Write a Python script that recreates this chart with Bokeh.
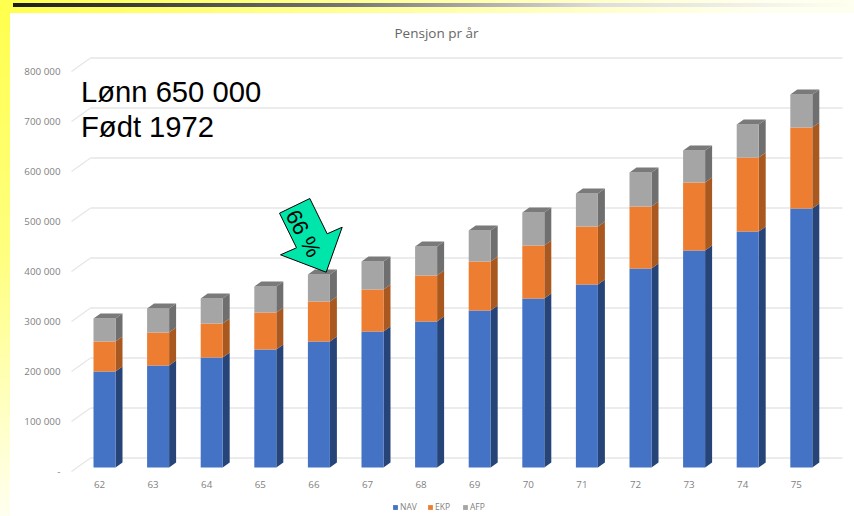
from bokeh.plotting import figure
from bokeh.embed import file_html
from bokeh.resources import INLINE
from bokeh.models import Range1d, FixedTicker, Legend, LegendItem
from bokeh.core.properties import value
import math

# ---- data ----
ages = [62, 63, 64, 65, 66, 67, 68, 69, 70, 71, 72, 73, 74, 75]
nav = [192000, 204000, 220000, 236000, 252000, 272000, 292000, 314000, 338000, 366000, 398000, 434000, 472000, 518000]
ekp = [60000, 66000, 68000, 74000, 80000, 84000, 92000, 98000, 106000, 116000, 124000, 136000, 148000, 162000]
afp = [46000, 48000, 50000, 52000, 54000, 56000, 58000, 62000, 66000, 66000, 68000, 64000, 66000, 66000]
y_ticks = [0, 100000, 200000, 300000, 400000, 500000, 600000, 700000, 800000]
y_labels = ["-", "100 000", "200 000", "300 000", "400 000", "500 000", "600 000", "700 000", "800 000"]
title = "Pensjon pr år"
note_lines = ["Lønn 650 000", "Født 1972"]
arrow_label = "66 %"
arrow_shape_px = [(279, 212.7), (309.3, 198), (326.7, 233.3), (341.7, 226.7), (325.7, 271.7), (280, 254.3), (296, 247.3)]

# ---- scale set-up (pixels of the 854x516 page) ----
W, H = 854, 516
PX_PER_AGE = 53.6
PX_PER_UNIT = 0.0005
FRAME_L = 66
X0_PX, Y0_PX = 99, 471  # age-62 tick label, axis zero


def dx(px):
    return px / PX_PER_AGE


def dy(px):
    return px / PX_PER_UNIT


def x_at(px):
    return 62 + (px - X0_PX) / PX_PER_AGE


def y_at(px):
    return (Y0_PX - px) / PX_PER_UNIT


BAR_SHIFT = dx(5)      # columns sit 5 px right of their tick labels
BAR_BASE = dy(4)       # bars stand 4 px above the axis zero
GRID_UP = dy(13.5)     # back wall is 13.5 px above the axis zero
HALF = dx(11)
DEPTH_X, DEPTH_Y = dx(7), dy(5)

p = figure(
    width=W, height=H, output_backend="svg", toolbar_location=None,
    x_range=Range1d(x_at(FRAME_L), x_at(W)), y_range=Range1d(y_at(H), y_at(0)),
    min_border_left=FRAME_L, min_border_right=0, min_border_top=0, min_border_bottom=0,
    outline_line_color=None, background_fill_color=None, border_fill_color=None,
    styles={
        "position": "absolute", "left": "0", "top": "0",
        "background": (
            "linear-gradient(90deg,#1c1c1c,#777 40%,#ddd 70%,#fffff0) 13px 3px/841px 4px no-repeat,"
            "linear-gradient(#fff,#fff) 10px 13px/844px 503px no-repeat,"
            "linear-gradient(90deg,#ffff4d,#ffff80 30%,#fffff0 90%) 0 0/854px 13px no-repeat,"
            "linear-gradient(180deg,#ffff4d,#ffff80 50%,#fffff0) 0 0/10px 516px no-repeat"
        ),
    },
)
p.grid.visible = False

# axes
ya = p.yaxis[0]
ya.ticker = FixedTicker(ticks=y_ticks)
ya.major_label_overrides = dict(zip(y_ticks, y_labels))
xa = p.xaxis[0]
xa.ticker = FixedTicker(ticks=ages)
xa.fixed_location = y_at(471)
for a in (xa, ya):
    a.axis_line_color = None
    a.major_tick_line_color = None
    a.minor_tick_line_color = None
    a.major_label_text_color = "#7f7f7f"
    a.major_label_text_font = "Open Sans"
    a.major_label_text_font_size = "9.8px"
ya.major_label_standoff = 0
xa.major_label_standoff = 3

# back-wall gridlines with their diagonal stubs
back_x0, back_x1 = x_at(90), x_at(842)
stub_x0 = x_at(71)
p.segment(x0=[back_x0] * len(y_ticks), x1=[back_x1] * len(y_ticks),
          y0=[v + GRID_UP for v in y_ticks], y1=[v + GRID_UP for v in y_ticks],
          line_color="#e6e6e6", line_width=1.6)
p.segment(x0=[stub_x0] * len(y_ticks), x1=[back_x0] * len(y_ticks),
          y0=y_ticks, y1=[v + GRID_UP for v in y_ticks],
          line_color="#e6e6e6", line_width=1.2)

# stacked columns, each with a side face and the top cap
bottoms = [BAR_BASE] * len(ages)
series = [("NAV", nav, "#4472c4", "#264478"),
          ("EKP", ekp, "#ed7d31", "#a9591f"),
          ("AFP", afp, "#a5a5a5", "#6f6f6f")]
centres = [a + BAR_SHIFT for a in ages]
legend_items = []
for name, vals, face, side in series:
    tops = [b + v for b, v in zip(bottoms, vals)]
    rx = [c + HALF for c in centres]
    p.patches(
        xs=[[r, r + DEPTH_X, r + DEPTH_X, r] for r in rx],
        ys=[[b, b + DEPTH_Y, t + DEPTH_Y, t] for b, t in zip(bottoms, tops)],
        fill_color=side, line_color=None)
    r = p.quad(left=[c - HALF for c in centres], right=rx, bottom=bottoms, top=tops,
               fill_color=face, line_color=None)
    legend_items.append(LegendItem(label=name, renderers=[r]))
    bottoms = tops
p.patches(
    xs=[[c - HALF, c - HALF + DEPTH_X, c + HALF + DEPTH_X, c + HALF] for c in centres],
    ys=[[t, t + DEPTH_Y, t + DEPTH_Y, t] for t in bottoms],
    fill_color="#7a7a7a", line_color=None)

# title and notes
p.text(x=[x_at(436)], y=[y_at(32)], text=[title], text_font=value("Open Sans"), text_font_size="13.5px",
       text_color="#666666", text_align="center", text_baseline="middle")
p.text(x=[x_at(80.5), x_at(80.5)], y=[y_at(91), y_at(126)], text=note_lines,
       text_font=value("Liberation Sans"), text_font_size="29.2px", text_color="#000000",
       text_align="left", text_baseline="middle")

# arrow marking age 66
p.patch(x=[x_at(a) for a, _ in arrow_shape_px], y=[y_at(b) for _, b in arrow_shape_px],
        fill_color="#00e6aa", line_color="#000000", line_width=1)
p.text(x=[x_at(303)], y=[y_at(233)], text=[arrow_label], angle=-62 * math.pi / 180,
       text_font=value("Liberation Sans"), text_font_size="22px", text_color="#000000",
       text_align="center", text_baseline="middle")

legend = Legend(items=legend_items, orientation="horizontal", location=(326, 4),
                background_fill_alpha=0, border_line_color=None,
                label_text_font="Open Sans", label_text_font_size="8.5px", label_text_color="#7f7f7f",
                glyph_width=6, glyph_height=6, spacing=7, label_standoff=2, padding=2, margin=0,
                label_height=8)
p.add_layout(legend, "center")

open("out.html", "w").write(file_html(p, INLINE))
